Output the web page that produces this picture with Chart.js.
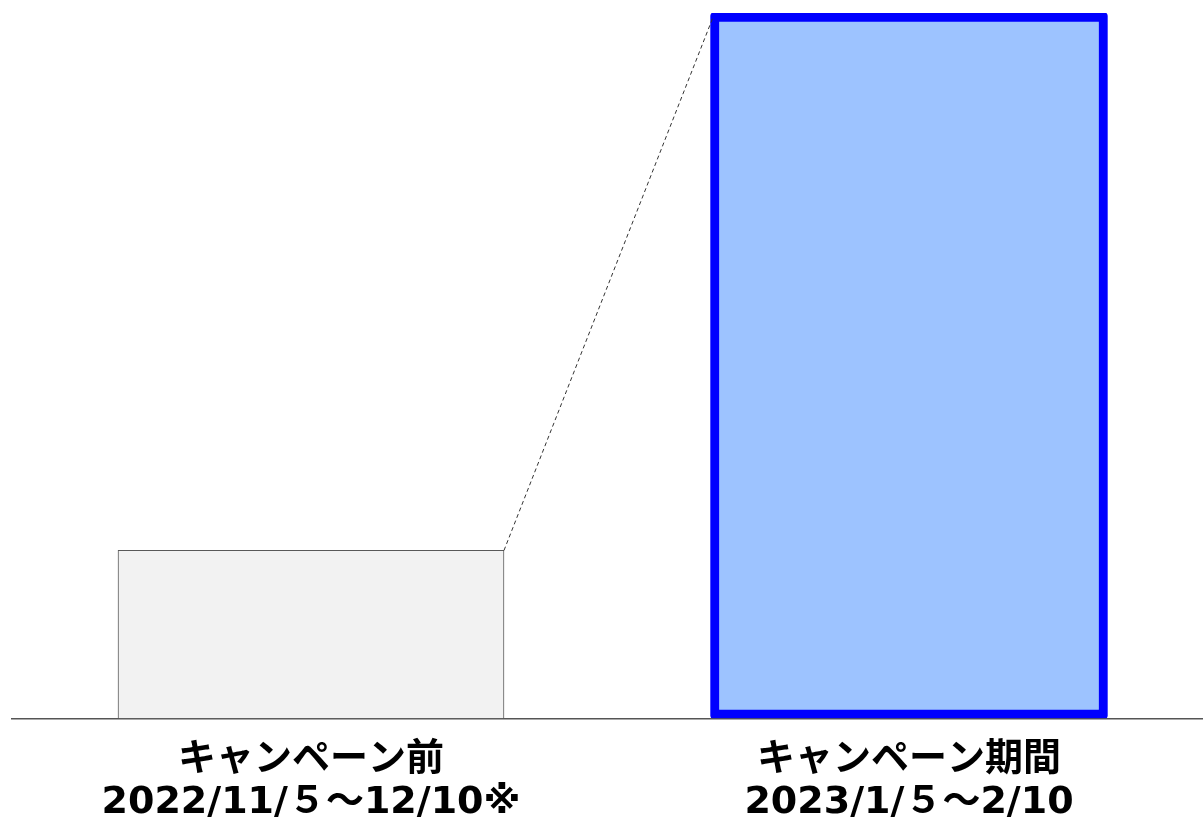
<!DOCTYPE html>
<html lang="ja">
<head>
  <meta charset="UTF-8">
  <title>キャンペーン比較</title>
  <script src="https://cdn.jsdelivr.net/npm/chart.js@4.4.1/dist/chart.umd.min.js"></script>
  <style>
    html, body { margin: 0; padding: 0; background: #fff; overflow: hidden; }
    #wrap { width: 1208px; height: 837px; }
  </style>
</head>
<body>
  <div id="wrap"><canvas id="myChart"></canvas></div>

  <script>
    // データ
    var categories = [
      ['キャンペーン前', '2022/11/５～12/10※'],
      ['キャンペーン期間', '2023/1/５～2/10']
    ];
    var beforeValues = [100, null];
    var duringValues = [null, 420];

    // 前の棒の右上から期間の棒の左上へ点線
    var connector = {
      id: 'connector',
      afterDatasetsDraw: function(chart) {
        var a = chart.getDatasetMeta(0).data[0];
        var b = chart.getDatasetMeta(1).data[1];
        if (!a || !b) return;
        var ctx = chart.ctx;
        ctx.save();
        ctx.setLineDash([4, 3]);
        ctx.strokeStyle = '#333';
        ctx.lineWidth = 1;
        ctx.beginPath();
        ctx.moveTo(a.x + a.width / 2, a.y);
        ctx.lineTo(b.x - b.width / 2 + 3, b.y + 3);
        ctx.stroke();
        ctx.restore();
      }
    };

    var ctx = document.getElementById('myChart').getContext('2d');
    var myChart = new Chart(ctx, {
      type: 'bar',
      data: {
        labels: categories,
        datasets: [{
          data: beforeValues,
          backgroundColor: '#f2f2f2',
          borderColor: '#595959',
          borderWidth: 1,
          borderSkipped: 'start',
          barThickness: 386,
          skipNull: true
        }, {
          data: duringValues,
          backgroundColor: '#9dc3ff',
          borderColor: '#0000ff',
          borderWidth: 9,
          borderSkipped: false,
          borderRadius: 3,
          barThickness: 397,
          skipNull: true
        }]
      },
      options: {
        responsive: true,
        maintainAspectRatio: false,
        animation: false,
        datasets: { bar: { grouped: false } },
        layout: { padding: { left: 12, right: 0, top: 13, bottom: 0 } },
        plugins: { legend: { display: false }, tooltip: { enabled: false } },
        scales: {
          x: {
            grid: { display: false },
            border: { display: true, color: '#555', width: 1.5 },
            ticks: {
              color: '#000',
              padding: 12,
              font: { family: '"DejaVu Sans", "Noto Sans CJK JP", sans-serif', size: 38, weight: 'bold', lineHeight: 1.14 }
            }
          },
          y: {
            display: false,
            min: 0,
            max: 420
          }
        }
      },
      plugins: [connector]
    });
  </script>
</body>
</html>
